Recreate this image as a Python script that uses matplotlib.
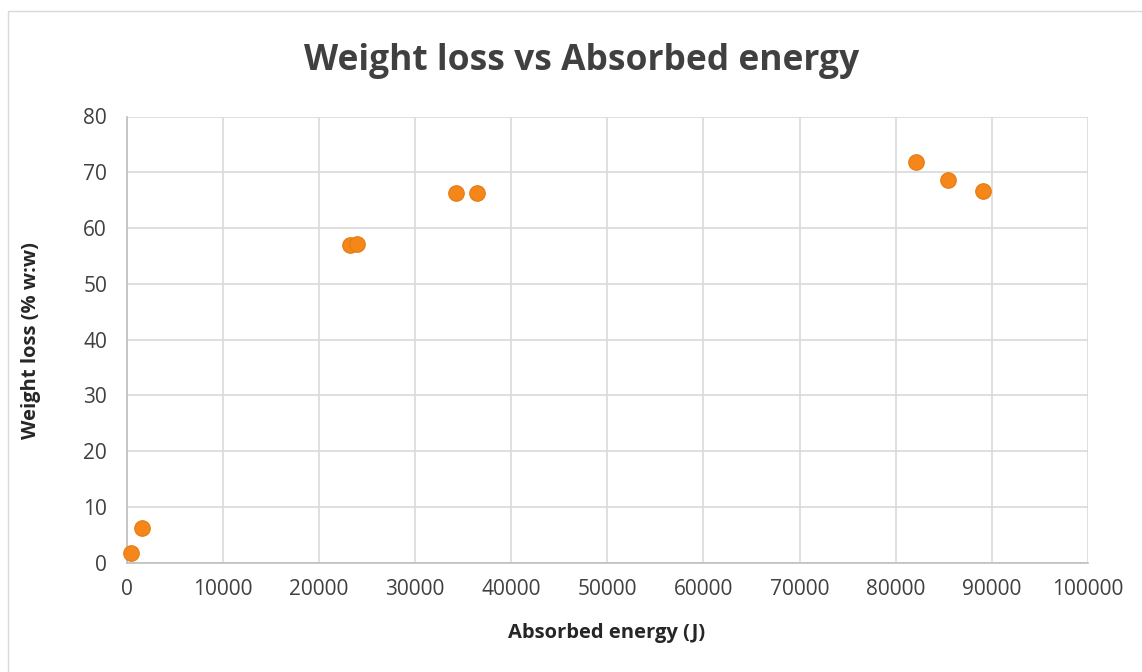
import matplotlib
matplotlib.use("Agg")
import matplotlib.pyplot as plt
from matplotlib.patches import Rectangle

energy = [470, 1640, 23230, 23930, 34220, 36470, 82140, 85430, 89070]
weight_loss = [1.8, 6.3, 56.9, 57.2, 66.2, 66.3, 71.8, 68.6, 66.7]
x_ticks = [0, 10000, 20000, 30000, 40000, 50000, 60000, 70000, 80000, 90000, 100000]
y_ticks = [0, 10, 20, 30, 40, 50, 60, 70, 80]

plt.rcParams['font.family'] = ['Open Sans', 'DejaVu Sans']

W, H = 1142, 672
fig = plt.figure(figsize=(W / 100, H / 100), dpi=100)
fig.patches.append(Rectangle((8 / W, -0.1), 1.2, 1.1 - 11 / H, transform=fig.transFigure,
                             fill=False, edgecolor='#d9d9d9', linewidth=1))

ax = fig.add_axes([126.5 / W, 1 - 562.7 / H, (1088 - 126.5) / W, (562.7 - 116.5) / H])
ax.scatter(energy, weight_loss, s=125, color='#F5861A', edgecolor='#E57A10',
           linewidth=0.8, zorder=3, clip_on=False)

ax.set_xlim(0, 100000)
ax.set_ylim(0, 80)
ax.set_xticks(x_ticks)
ax.set_yticks(y_ticks)
ax.set_xticklabels([str(v) for v in x_ticks])
ax.set_yticklabels([str(v) for v in y_ticks])
ax.tick_params(axis='x', length=0, labelsize=15, colors='#404040', pad=12)
ax.tick_params(axis='y', length=0, labelsize=15, colors='#404040', pad=14)
ax.grid(True, color='#d9d9d9', linewidth=1.2)
ax.set_axisbelow(True)
for s in ['top', 'right']:
    ax.spines[s].set_visible(False)
for s in ['left', 'bottom']:
    ax.spines[s].set_color('#bfbfbf')
    ax.spines[s].set_linewidth(1.2)

fig.text(607 / W, 1 - 633 / H, 'Absorbed energy (J)', ha='center', va='center',
         fontsize=14.5, fontweight='bold', color='#262626')
fig.text(31 / W, 1 - 341 / H, 'Weight loss (% w:w)', ha='center', va='center', rotation=90,
         fontsize=14.5, fontweight='bold', color='#262626')
fig.text(582 / W, 1 - 61 / H, 'Weight loss vs Absorbed energy', ha='center', va='center',
         fontsize=25.5, fontweight='bold', color='#404040')

fig.savefig('out.png', dpi=100, facecolor='white')
